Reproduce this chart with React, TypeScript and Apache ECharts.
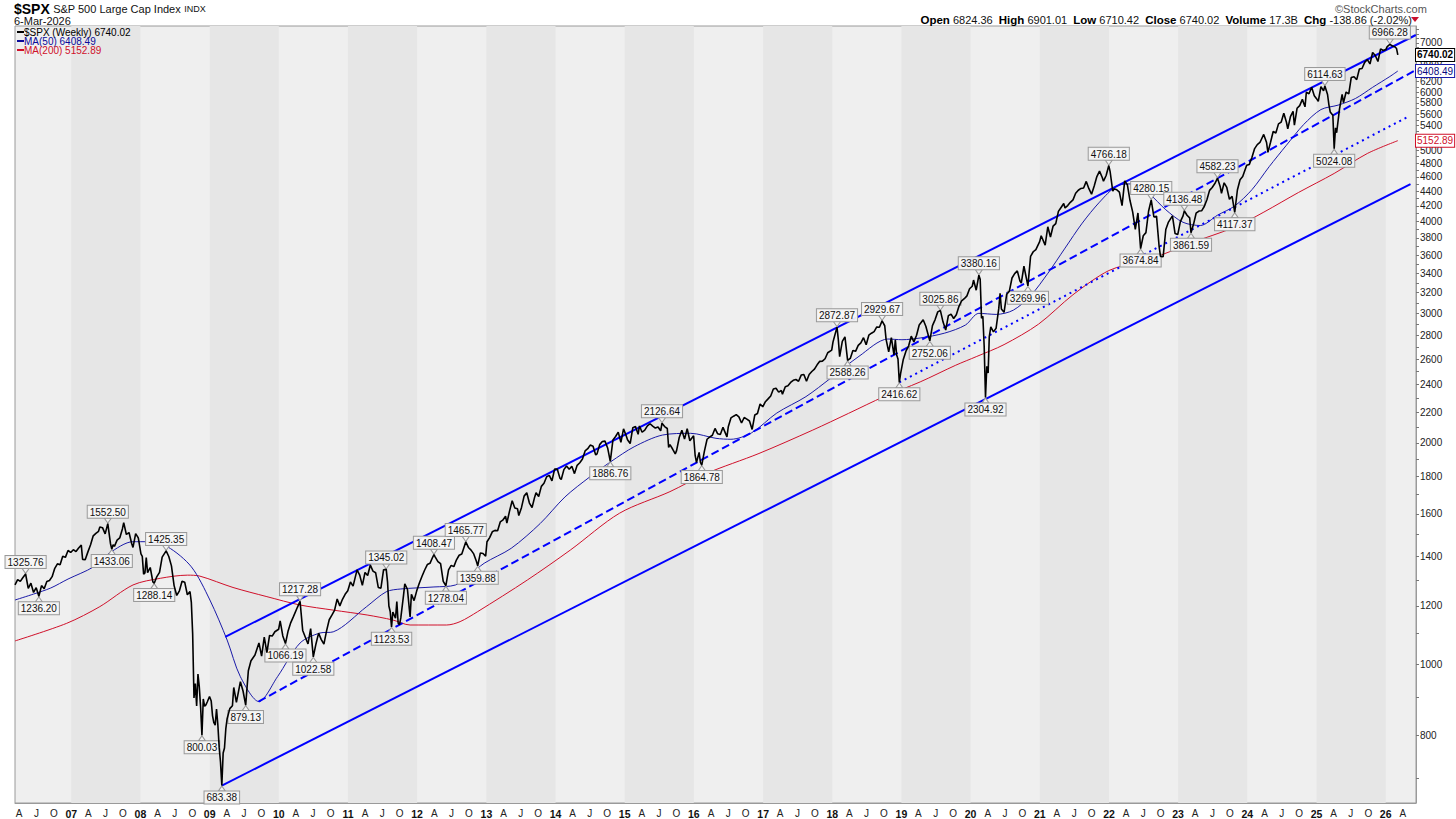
import React, { useEffect, useRef } from 'react';
import * as echarts from 'echarts';

// ---------- DATA ----------
const priceData: [string, number][] = [
  ['2006-03-10', 1281.4], ['2006-03-24', 1302.9], ['2006-04-07', 1295.5], ['2006-04-21', 1311.3],
  ['2006-05-05', 1325.76], ['2006-05-19', 1267.0], ['2006-06-02', 1288.2], ['2006-06-16', 1251.5],
  ['2006-06-30', 1270.2], ['2006-07-14', 1236.2], ['2006-07-28', 1278.6], ['2006-08-11', 1266.0],
  ['2006-08-25', 1295.1], ['2006-09-08', 1298.9], ['2006-09-22', 1314.8], ['2006-10-06', 1349.6],
  ['2006-10-20', 1368.6], ['2006-11-03', 1364.3], ['2006-11-17', 1401.2], ['2006-12-01', 1396.7],
  ['2006-12-15', 1427.1], ['2006-12-29', 1418.3],
  ['2007-01-12', 1430.7], ['2007-01-26', 1422.2], ['2007-02-09', 1438.1], ['2007-02-23', 1451.2],
  ['2007-03-02', 1387.2], ['2007-03-16', 1386.9], ['2007-03-30', 1420.9], ['2007-04-13', 1452.9],
  ['2007-04-27', 1494.1], ['2007-05-11', 1505.9], ['2007-05-25', 1515.7], ['2007-06-01', 1536.3],
  ['2007-06-15', 1532.9], ['2007-06-29', 1503.4], ['2007-07-13', 1552.5], ['2007-07-27', 1458.9],
  ['2007-08-03', 1433.06], ['2007-08-10', 1453.6], ['2007-08-17', 1445.9], ['2007-08-31', 1474.0],
  ['2007-09-14', 1484.3], ['2007-09-28', 1526.8], ['2007-10-05', 1557.6], ['2007-10-19', 1500.6],
  ['2007-11-02', 1509.7], ['2007-11-16', 1458.7], ['2007-11-23', 1440.7], ['2007-12-07', 1504.7],
  ['2007-12-21', 1484.5],
  ['2008-01-04', 1411.6], ['2008-01-11', 1401.0], ['2008-01-18', 1325.2], ['2008-01-25', 1330.6],
  ['2008-02-01', 1395.4], ['2008-02-08', 1331.3], ['2008-02-22', 1353.1], ['2008-03-07', 1293.4],
  ['2008-03-14', 1288.14], ['2008-03-28', 1315.2], ['2008-04-11', 1332.8], ['2008-04-25', 1397.8],
  ['2008-05-16', 1425.35], ['2008-05-30', 1400.4], ['2008-06-13', 1360.0], ['2008-06-27', 1278.4],
  ['2008-07-11', 1239.5], ['2008-07-25', 1257.8], ['2008-08-08', 1296.3], ['2008-08-22', 1292.2],
  ['2008-09-05', 1242.3], ['2008-09-19', 1255.1], ['2008-09-26', 1213.3], ['2008-10-03', 1099.2],
  ['2008-10-10', 899.2], ['2008-10-17', 940.6], ['2008-10-24', 876.8], ['2008-10-31', 968.8],
  ['2008-11-07', 931.0], ['2008-11-14', 873.3], ['2008-11-21', 800.03], ['2008-11-28', 896.2],
  ['2008-12-05', 876.1], ['2008-12-12', 879.7], ['2008-12-19', 887.9], ['2008-12-31', 903.3],
  ['2009-01-09', 890.4], ['2009-01-16', 850.1], ['2009-01-23', 832.0], ['2009-01-30', 825.9],
  ['2009-02-06', 868.6], ['2009-02-13', 826.8], ['2009-02-20', 770.1], ['2009-02-27', 735.1],
  ['2009-03-06', 683.38], ['2009-03-13', 756.6], ['2009-03-20', 768.5], ['2009-03-27', 815.9],
  ['2009-04-03', 842.5], ['2009-04-17', 869.6], ['2009-05-01', 877.5], ['2009-05-08', 929.2],
  ['2009-05-22', 887.0], ['2009-06-12', 946.2], ['2009-06-26', 918.9], ['2009-07-10', 879.13],
  ['2009-07-24', 979.3], ['2009-08-07', 1010.5], ['2009-08-28', 1028.9], ['2009-09-18', 1068.3],
  ['2009-10-02', 1025.2], ['2009-10-16', 1087.7], ['2009-10-30', 1036.2], ['2009-11-13', 1093.5],
  ['2009-11-27', 1091.5], ['2009-12-11', 1106.4], ['2009-12-31', 1115.1],
  ['2010-01-08', 1145.0], ['2010-01-22', 1091.8], ['2010-02-05', 1066.19], ['2010-02-19', 1109.2],
  ['2010-03-05', 1138.7], ['2010-03-19', 1159.9], ['2010-04-09', 1194.4], ['2010-04-23', 1217.28],
  ['2010-05-07', 1110.9], ['2010-05-21', 1087.7], ['2010-06-04', 1064.9], ['2010-06-18', 1117.5],
  ['2010-07-02', 1022.58], ['2010-07-16', 1064.9], ['2010-07-30', 1101.6], ['2010-08-13', 1079.3],
  ['2010-08-27', 1064.6], ['2010-09-10', 1109.6], ['2010-09-24', 1148.7], ['2010-10-08', 1165.2],
  ['2010-10-22', 1183.1], ['2010-11-05', 1225.9], ['2010-11-19', 1199.7], ['2010-12-03', 1224.7],
  ['2010-12-17', 1243.9], ['2010-12-31', 1257.6],
  ['2011-01-14', 1293.2], ['2011-01-28', 1276.3], ['2011-02-18', 1343.0], ['2011-03-04', 1321.2],
  ['2011-03-18', 1279.2], ['2011-04-01', 1332.4], ['2011-04-15', 1319.7], ['2011-04-29', 1363.6],
  ['2011-05-13', 1337.8], ['2011-05-27', 1331.1], ['2011-06-10', 1271.0], ['2011-06-24', 1268.5],
  ['2011-07-08', 1343.8], ['2011-07-22', 1345.02], ['2011-07-29', 1292.3], ['2011-08-05', 1199.4],
  ['2011-08-12', 1178.8], ['2011-08-19', 1123.53], ['2011-08-26', 1176.8], ['2011-09-09', 1154.2],
  ['2011-09-16', 1216.0], ['2011-09-23', 1136.4], ['2011-09-30', 1131.4], ['2011-10-07', 1155.5],
  ['2011-10-21', 1238.3], ['2011-10-28', 1285.1], ['2011-11-11', 1263.9], ['2011-11-25', 1158.7],
  ['2011-12-02', 1244.3], ['2011-12-16', 1219.7], ['2011-12-30', 1257.6],
  ['2012-01-13', 1289.1], ['2012-01-27', 1316.3], ['2012-02-10', 1342.6], ['2012-02-24', 1365.7],
  ['2012-03-09', 1370.9], ['2012-03-23', 1397.1], ['2012-03-30', 1408.47], ['2012-04-06', 1398.1],
  ['2012-04-20', 1378.5], ['2012-05-04', 1369.1], ['2012-05-18', 1295.2], ['2012-06-01', 1278.04],
  ['2012-06-15', 1342.8], ['2012-06-29', 1362.2], ['2012-07-13', 1356.8], ['2012-07-27', 1386.0],
  ['2012-08-10', 1405.9], ['2012-08-24', 1411.1], ['2012-09-14', 1465.77], ['2012-09-28', 1440.7],
  ['2012-10-12', 1428.6], ['2012-10-26', 1411.9], ['2012-11-09', 1379.9], ['2012-11-16', 1359.88],
  ['2012-11-30', 1416.2], ['2012-12-14', 1413.6], ['2012-12-28', 1402.4],
  ['2013-01-04', 1466.5], ['2013-01-18', 1486.0], ['2013-02-01', 1513.2], ['2013-02-15', 1519.8],
  ['2013-03-01', 1518.2], ['2013-03-15', 1560.7], ['2013-03-28', 1569.2], ['2013-04-12', 1588.9],
  ['2013-04-19', 1555.3], ['2013-05-03', 1614.4], ['2013-05-17', 1667.5], ['2013-05-31', 1630.7],
  ['2013-06-14', 1626.7], ['2013-06-21', 1592.4], ['2013-07-05', 1631.9], ['2013-07-19', 1692.1],
  ['2013-08-02', 1709.7], ['2013-08-16', 1655.8], ['2013-08-30', 1633.0], ['2013-09-13', 1688.0],
  ['2013-09-20', 1709.9], ['2013-10-04', 1690.5], ['2013-10-18', 1744.5], ['2013-11-01', 1761.6],
  ['2013-11-15', 1798.2], ['2013-11-29', 1805.8], ['2013-12-13', 1775.3], ['2013-12-27', 1841.4],
  ['2014-01-10', 1842.4], ['2014-01-24', 1790.3], ['2014-01-31', 1782.6], ['2014-02-14', 1838.6],
  ['2014-02-28', 1859.5], ['2014-03-14', 1841.1], ['2014-03-28', 1857.6], ['2014-04-11', 1815.7],
  ['2014-04-25', 1863.4], ['2014-05-09', 1878.5], ['2014-05-23', 1900.5], ['2014-06-06', 1949.4],
  ['2014-06-20', 1962.9], ['2014-07-03', 1985.4], ['2014-07-18', 1978.2], ['2014-08-01', 1925.2],
  ['2014-08-08', 1931.6], ['2014-08-22', 1988.4], ['2014-09-05', 2007.7], ['2014-09-19', 2010.4],
  ['2014-10-03', 1967.9], ['2014-10-17', 1886.76], ['2014-10-31', 2018.1], ['2014-11-14', 2039.8],
  ['2014-11-28', 2067.6], ['2014-12-12', 2002.3], ['2014-12-26', 2088.8],
  ['2015-01-09', 2044.8], ['2015-01-16', 2019.4], ['2015-01-30', 1995.0], ['2015-02-13', 2097.0],
  ['2015-02-27', 2104.5], ['2015-03-13', 2053.4], ['2015-03-20', 2108.1], ['2015-04-03', 2067.0],
  ['2015-04-17', 2081.2], ['2015-05-01', 2108.3], ['2015-05-15', 2122.7], ['2015-05-29', 2107.4],
  ['2015-06-12', 2094.1], ['2015-06-26', 2101.5], ['2015-07-10', 2076.6], ['2015-07-17', 2126.64],
  ['2015-07-31', 2103.8], ['2015-08-14', 2091.5], ['2015-08-21', 1970.9], ['2015-08-28', 1988.9],
  ['2015-09-11', 1961.1], ['2015-09-25', 1931.3], ['2015-10-02', 1951.4], ['2015-10-16', 2033.1],
  ['2015-10-30', 2079.4], ['2015-11-13', 2023.0], ['2015-11-27', 2090.1], ['2015-12-11', 2012.4],
  ['2015-12-31', 2043.9],
  ['2016-01-08', 1922.0], ['2016-01-15', 1880.3], ['2016-01-29', 1940.2], ['2016-02-05', 1880.1],
  ['2016-02-12', 1864.78], ['2016-02-26', 1948.1], ['2016-03-11', 2022.2], ['2016-03-24', 2035.9],
  ['2016-04-08', 2047.6], ['2016-04-22', 2091.6], ['2016-05-06', 2057.1], ['2016-05-20', 2052.3],
  ['2016-06-03', 2099.1], ['2016-06-24', 2037.4], ['2016-07-01', 2103.0], ['2016-07-15', 2161.7],
  ['2016-07-29', 2173.6], ['2016-08-12', 2184.1], ['2016-08-26', 2169.0], ['2016-09-09', 2127.8],
  ['2016-09-23', 2164.7], ['2016-10-07', 2153.7], ['2016-10-21', 2141.2], ['2016-11-04', 2085.2],
  ['2016-11-18', 2181.9], ['2016-12-02', 2192.0], ['2016-12-16', 2258.1], ['2016-12-30', 2238.8],
  ['2017-01-13', 2274.6], ['2017-01-27', 2294.7], ['2017-02-10', 2316.1], ['2017-02-24', 2367.3],
  ['2017-03-10', 2372.6], ['2017-03-24', 2344.0], ['2017-04-07', 2355.5], ['2017-04-13', 2329.0],
  ['2017-04-28', 2384.2], ['2017-05-12', 2390.9], ['2017-05-26', 2415.8], ['2017-06-09', 2431.8],
  ['2017-06-23', 2438.3], ['2017-07-07', 2425.2], ['2017-07-21', 2472.5], ['2017-08-04', 2476.8],
  ['2017-08-18', 2425.6], ['2017-09-01', 2476.6], ['2017-09-15', 2500.2], ['2017-09-29', 2519.4],
  ['2017-10-13', 2553.2], ['2017-10-27', 2581.1], ['2017-11-10', 2582.3], ['2017-11-24', 2602.4],
  ['2017-12-08', 2651.5], ['2017-12-29', 2673.6],
  ['2018-01-05', 2743.2], ['2018-01-12', 2786.2], ['2018-01-26', 2872.87], ['2018-02-02', 2762.1],
  ['2018-02-09', 2619.6], ['2018-02-23', 2747.3], ['2018-03-09', 2786.6], ['2018-03-23', 2588.26],
  ['2018-04-06', 2604.5], ['2018-04-20', 2670.1], ['2018-05-04', 2663.4], ['2018-05-18', 2713.0],
  ['2018-06-01', 2734.6], ['2018-06-15', 2779.7], ['2018-06-29', 2718.4], ['2018-07-13', 2801.3],
  ['2018-07-27', 2818.8], ['2018-08-10', 2833.3], ['2018-08-24', 2874.7], ['2018-09-07', 2871.7],
  ['2018-09-21', 2929.67], ['2018-10-05', 2885.6], ['2018-10-12', 2767.1], ['2018-10-26', 2658.7],
  ['2018-11-09', 2781.0], ['2018-11-23', 2632.6], ['2018-11-30', 2760.2], ['2018-12-07', 2633.1],
  ['2018-12-14', 2600.0], ['2018-12-21', 2416.62], ['2018-12-28', 2485.7],
  ['2019-01-11', 2596.3], ['2019-01-25', 2664.8], ['2019-02-08', 2707.9], ['2019-02-22', 2792.7],
  ['2019-03-08', 2743.1], ['2019-03-22', 2800.7], ['2019-04-05', 2892.7], ['2019-04-26', 2939.9],
  ['2019-05-10', 2881.4], ['2019-05-31', 2752.06], ['2019-06-14', 2887.0], ['2019-06-28', 2941.8],
  ['2019-07-12', 3013.8], ['2019-07-26', 3025.86], ['2019-08-09', 2918.7], ['2019-08-23', 2847.1],
  ['2019-09-06', 2978.7], ['2019-09-20', 2992.1], ['2019-10-04', 2952.0], ['2019-10-18', 2986.2],
  ['2019-11-01', 3066.9], ['2019-11-15', 3120.5], ['2019-11-29', 3141.0], ['2019-12-13', 3168.8],
  ['2019-12-27', 3240.0],
  ['2020-01-10', 3265.4], ['2020-01-17', 3329.6], ['2020-01-31', 3225.5], ['2020-02-14', 3380.16],
  ['2020-02-21', 3337.8], ['2020-02-28', 2954.2], ['2020-03-06', 2972.4], ['2020-03-13', 2711.0],
  ['2020-03-20', 2304.92], ['2020-03-27', 2541.5], ['2020-04-03', 2488.7], ['2020-04-09', 2789.8],
  ['2020-04-17', 2874.6], ['2020-05-01', 2830.7], ['2020-05-15', 2863.7], ['2020-05-29', 3044.3],
  ['2020-06-05', 3193.9], ['2020-06-12', 3041.3], ['2020-06-26', 3009.1], ['2020-07-10', 3185.0],
  ['2020-07-24', 3215.6], ['2020-08-07', 3351.3], ['2020-08-21', 3397.2], ['2020-09-04', 3427.0],
  ['2020-09-18', 3319.5], ['2020-09-25', 3298.5], ['2020-10-09', 3477.1], ['2020-10-30', 3269.96],
  ['2020-11-13', 3585.2], ['2020-11-27', 3638.4], ['2020-12-11', 3663.5], ['2020-12-31', 3756.1],
  ['2021-01-08', 3824.7], ['2021-01-29', 3714.2], ['2021-02-12', 3934.8], ['2021-02-26', 3811.2],
  ['2021-03-12', 3943.3], ['2021-03-26', 3974.5], ['2021-04-09', 4128.8], ['2021-04-23', 4180.2],
  ['2021-05-07', 4232.6], ['2021-05-14', 4173.9], ['2021-05-28', 4204.1], ['2021-06-11', 4247.4],
  ['2021-06-25', 4280.7], ['2021-07-09', 4369.6], ['2021-07-23', 4411.8], ['2021-08-06', 4436.5],
  ['2021-08-20', 4441.7], ['2021-09-03', 4535.4], ['2021-09-17', 4433.0], ['2021-10-01', 4357.0],
  ['2021-10-15', 4471.4], ['2021-10-29', 4605.4], ['2021-11-12', 4682.9], ['2021-11-26', 4594.6],
  ['2021-12-03', 4538.4], ['2021-12-17', 4620.6], ['2021-12-31', 4766.18],
  ['2022-01-07', 4677.0], ['2022-01-21', 4397.9], ['2022-01-28', 4431.9], ['2022-02-11', 4418.6],
  ['2022-02-25', 4384.7], ['2022-03-11', 4204.3], ['2022-03-25', 4543.1], ['2022-04-08', 4488.3],
  ['2022-04-22', 4271.8], ['2022-05-06', 4123.3], ['2022-05-20', 3901.4], ['2022-06-03', 4108.5],
  ['2022-06-17', 3674.84], ['2022-07-01', 3825.3], ['2022-07-15', 3863.2], ['2022-07-29', 4130.3],
  ['2022-08-12', 4280.15], ['2022-08-26', 4057.7], ['2022-09-09', 4067.4], ['2022-09-23', 3693.2],
  ['2022-09-30', 3585.6], ['2022-10-14', 3583.1], ['2022-10-28', 3901.1], ['2022-11-11', 3992.9],
  ['2022-12-02', 4071.7], ['2022-12-16', 3852.4], ['2022-12-30', 3839.5],
  ['2023-01-13', 3999.1], ['2023-01-27', 4070.6], ['2023-02-03', 4136.48], ['2023-02-17', 4079.1],
  ['2023-03-03', 4045.6], ['2023-03-10', 3861.59], ['2023-03-24', 3971.0], ['2023-04-06', 4105.0],
  ['2023-04-21', 4133.5], ['2023-05-05', 4136.3], ['2023-05-19', 4192.0], ['2023-06-02', 4282.4],
  ['2023-06-16', 4409.6], ['2023-06-30', 4450.4], ['2023-07-14', 4505.4], ['2023-07-28', 4582.23],
  ['2023-08-11', 4464.1], ['2023-08-18', 4369.7], ['2023-09-01', 4515.8], ['2023-09-15', 4450.3],
  ['2023-09-29', 4288.1], ['2023-10-13', 4327.8], ['2023-10-27', 4117.37], ['2023-11-10', 4415.2],
  ['2023-11-24', 4559.3], ['2023-12-08', 4604.4], ['2023-12-29', 4769.8],
  ['2024-01-12', 4783.8], ['2024-01-26', 4891.0], ['2024-02-09', 5026.6], ['2024-02-23', 5088.8],
  ['2024-03-08', 5123.7], ['2024-03-28', 5254.4], ['2024-04-12', 5123.4], ['2024-04-19', 4967.2],
  ['2024-05-03', 5127.8], ['2024-05-17', 5303.3], ['2024-05-31', 5277.5], ['2024-06-14', 5431.6],
  ['2024-06-28', 5460.5], ['2024-07-12', 5615.4], ['2024-07-26', 5459.1], ['2024-08-02', 5346.6],
  ['2024-08-16', 5554.3], ['2024-08-30', 5648.4], ['2024-09-06', 5408.4], ['2024-09-20', 5702.6],
  ['2024-10-04', 5751.1], ['2024-10-18', 5864.7], ['2024-11-01', 5728.8], ['2024-11-08', 5995.5],
  ['2024-11-22', 5969.3], ['2024-12-06', 6090.3], ['2024-12-20', 5930.9], ['2024-12-31', 5881.6],
  ['2025-01-10', 5827.0], ['2025-01-24', 6101.2], ['2025-02-07', 6026.0], ['2025-02-14', 6114.63],
  ['2025-02-28', 5954.5], ['2025-03-07', 5770.2], ['2025-03-14', 5638.9], ['2025-03-28', 5580.9],
  ['2025-04-04', 5024.08], ['2025-04-11', 5363.4], ['2025-04-17', 5282.7], ['2025-05-02', 5686.7],
  ['2025-05-16', 5958.4], ['2025-05-23', 5802.8], ['2025-06-06', 6000.4], ['2025-06-20', 5967.8],
  ['2025-07-03', 6279.4], ['2025-07-18', 6296.8], ['2025-08-01', 6238.0], ['2025-08-15', 6449.8],
  ['2025-08-29', 6460.3], ['2025-09-12', 6584.3], ['2025-09-26', 6643.7], ['2025-10-10', 6552.5],
  ['2025-10-24', 6791.7], ['2025-11-07', 6728.8], ['2025-11-21', 6603.0], ['2025-12-05', 6870.4],
  ['2025-12-19', 6834.5], ['2026-01-02', 6858.5], ['2026-01-09', 6920.0], ['2026-01-23', 6966.28],
  ['2026-02-06', 6932.3], ['2026-02-20', 6909.5], ['2026-02-27', 6878.88], ['2026-03-06', 6740.02],
];

const ma50Data: [string, number][] = [
  ['2006-03-10', 1222], ['2006-06-16', 1245], ['2006-09-15', 1269], ['2006-12-15', 1305],
  ['2007-04-27', 1355], ['2007-07-20', 1415], ['2007-11-23', 1467], ['2008-02-08', 1467],
  ['2008-05-23', 1444], ['2008-09-26', 1356], ['2009-01-02', 1222], ['2009-04-03', 1078],
  ['2009-06-12', 961], ['2009-09-18', 889], ['2009-12-25', 961], ['2010-04-23', 1068],
  ['2010-08-06', 1102], ['2010-10-15', 1106], ['2011-04-08', 1196], ['2011-07-22', 1254],
  ['2011-10-07', 1265], ['2012-03-30', 1273], ['2012-07-22', 1281], ['2012-12-20', 1371],
  ['2013-05-12', 1437], ['2013-10-12', 1553], ['2014-02-20', 1688], ['2014-07-02', 1798],
  ['2014-10-20', 1885], ['2015-02-20', 1975], ['2015-07-20', 2049], ['2015-12-15', 2060],
  ['2016-04-27', 2028], ['2016-07-15', 2022], ['2016-11-02', 2064], ['2017-03-14', 2195],
  ['2017-08-15', 2311], ['2017-12-25', 2450], ['2018-05-22', 2622], ['2018-10-22', 2768],
  ['2019-01-04', 2762], ['2019-04-10', 2777], ['2019-08-18', 2820], ['2019-12-05', 2892],
  ['2020-02-14', 3000], ['2020-05-15', 2990], ['2020-08-14', 3030], ['2020-11-13', 3170],
  ['2021-02-12', 3400], ['2021-05-14', 3680], ['2021-08-13', 3980], ['2021-11-12', 4250],
  ['2022-02-11', 4470], ['2022-04-29', 4500], ['2022-07-29', 4370], ['2022-10-28', 4150],
  ['2023-01-27', 3990], ['2023-04-28', 3950], ['2023-07-28', 4080], ['2023-10-27', 4200],
  ['2024-01-26', 4420], ['2024-04-26', 4750], ['2024-07-26', 5080], ['2024-10-25', 5420],
  ['2025-01-24', 5680], ['2025-04-25', 5760], ['2025-07-25', 5880], ['2025-10-24', 6090],
  ['2026-01-23', 6300], ['2026-03-06', 6408.49],
];

const ma200Data: [string, number][] = [
  ['2006-03-10', 1075], ['2006-12-08', 1136], ['2007-06-01', 1197], ['2007-11-23', 1281],
  ['2008-04-15', 1308], ['2008-09-05', 1321], ['2008-11-10', 1317], ['2009-05-04', 1271],
  ['2009-10-30', 1235], ['2010-04-23', 1203], ['2010-10-15', 1184], ['2011-04-12', 1166],
  ['2011-08-25', 1148], ['2011-11-25', 1130], ['2012-06-05', 1130], ['2012-08-15', 1142],
  ['2012-11-15', 1178], ['2013-08-05', 1301], ['2014-03-20', 1429], ['2014-12-05', 1604],
  ['2015-08-28', 1716], ['2016-03-08', 1817], ['2016-12-10', 1934], ['2017-09-20', 2081],
  ['2018-03-28', 2193], ['2018-10-01', 2311], ['2019-04-10', 2420], ['2019-10-15', 2550],
  ['2020-02-03', 2621], ['2020-06-26', 2720], ['2020-12-25', 2900], ['2021-06-25', 3180],
  ['2021-12-31', 3430], ['2022-06-17', 3530], ['2022-10-14', 3610], ['2023-03-10', 3740],
  ['2023-10-27', 3930], ['2024-03-29', 4120], ['2024-09-27', 4380], ['2025-04-04', 4650],
  ['2025-09-26', 4950], ['2026-03-06', 5152.89],
];

// channel / trend lines: [start, end]
const upperChannel: [string, number][] = [['2009-03-24', 1089], ['2026-06-09', 7175]];
const midDashed: [string, number][] = [['2009-09-16', 889], ['2026-06-09', 6428]];
const dottedTrend: [string, number][] = [['2018-12-21', 2416.62], ['2026-04-27', 5551]];
const lowerChannel: [string, number][] = [['2009-03-06', 683.38], ['2026-05-12', 4497]];

// annotated peaks and troughs
const peakLabels: [string, number][] = [
  ['2006-05-05', 1325.76], ['2007-07-13', 1552.5], ['2008-05-16', 1425.35], ['2010-04-23', 1217.28],
  ['2011-07-22', 1345.02], ['2012-03-30', 1408.47], ['2012-09-14', 1465.77], ['2015-07-17', 2126.64],
  ['2018-01-26', 2872.87], ['2018-09-21', 2929.67], ['2019-07-26', 3025.86], ['2020-02-14', 3380.16],
  ['2021-12-31', 4766.18], ['2022-08-12', 4280.15], ['2023-02-03', 4136.48], ['2023-07-28', 4582.23],
  ['2025-02-14', 6114.63], ['2026-01-23', 6966.28],
];
const troughLabels: [string, number][] = [
  ['2006-07-14', 1236.2], ['2007-08-03', 1433.06], ['2008-03-14', 1288.14], ['2008-11-21', 800.03],
  ['2009-03-06', 683.38], ['2009-07-10', 879.13], ['2010-02-05', 1066.19], ['2010-07-02', 1022.58],
  ['2011-08-19', 1123.53], ['2012-06-01', 1278.04], ['2012-11-16', 1359.88], ['2014-10-17', 1886.76],
  ['2016-02-12', 1864.78], ['2018-03-23', 2588.26], ['2018-12-21', 2416.62], ['2019-05-31', 2752.06],
  ['2020-03-20', 2304.92], ['2020-10-30', 3269.96], ['2022-06-17', 3674.84], ['2023-03-10', 3861.59],
  ['2023-10-27', 4117.37], ['2025-04-04', 5024.08],
];

// right-axis labels (those hidden under the last-value boxes are left out)
const yLabelValues: number[] = [
  800, 1000, 1200, 1400, 1600, 1800, 2000, 2200, 2400, 2600, 2800, 3000, 3200, 3400, 3600,
  3800, 4000, 4200, 4400, 4600, 4800, 5000, 5400, 5600, 5800, 6000, 6200, 6600, 7000,
];
const yTickValues: number[] = [
  700, 800, 900, 1000, 1100, 1200, 1300, 1400, 1500, 1600, 1700, 1800, 1900, 2000, 2100, 2200,
  2300, 2400, 2500, 2600, 2700, 2800, 2900, 3000, 3100, 3200, 3300, 3400, 3500, 3600, 3700, 3800,
  3900, 4000, 4100, 4200, 4300, 4400, 4500, 4600, 4700, 4800, 4900, 5000, 5100, 5200, 5300, 5400,
  5500, 5600, 5700, 5800, 5900, 6000, 6100, 6200, 6300, 6400, 6500, 6600, 6700, 6800, 6900, 7000,
  7100, 7200, 7300,
];
const firstYear = 2006;
const lastYear = 2026;
const quarterMonthLabels: Record<number, string> = { 3: 'A', 6: 'J', 9: 'O' };

const lastClose = 6740.02;
const lastMa50 = 6408.49;
const lastMa200 = 5152.89;

const FONT = '"Liberation Sans", Arial, Helvetica, sans-serif';

export default function App() {
  const ref = useRef<HTMLDivElement>(null);

  useEffect(() => {
    document.body.style.margin = '0';
    if (!ref.current) return;
    const chart = echarts.init(ref.current, undefined, { renderer: 'svg' });
    const T = (s: string) => {
      const [y, m, d] = s.split('-').map(Number);
      return new Date(y, m - 1, d).getTime();
    };
    const toSeries = (arr: [string, number][]) => arr.map(([d, v]) => [T(d), v]);

    const quarterTicks: number[] = [];
    for (let y = firstYear; y <= lastYear; y++) {
      for (const m of [0, 3, 6, 9]) {
        quarterTicks.push(new Date(y, m, 1).getTime());
      }
    }

    const bands: any[] = [];
    for (let y = 2007; y <= 2025; y += 2) {
      bands.push([{ xAxis: new Date(y, 0, 1).getTime() }, { xAxis: new Date(y + 1, 0, 1).getTime() }]);
    }

    const labelBox = {
      fontSize: 10,
      fontFamily: FONT,
      color: '#111',
      backgroundColor: 'rgba(246,246,246,0.92)',
      borderColor: '#9a9a9a',
      borderWidth: 1,
      padding: [1, 2, 0, 2],
      lineHeight: 11,
      distance: 0,
    };

    const markData = [
      ...peakLabels.map(([d, v]) => ({
        coord: [T(d), v], value: v,
        symbolRotate: 180,
        symbolOffset: [0, -3],
        label: { position: 'top', formatter: v.toFixed(2) },
      })),
      ...troughLabels.map(([d, v]) => ({
        coord: [T(d), v], value: v,
        symbolRotate: 0,
        symbolOffset: [0, 3],
        label: { position: 'bottom', formatter: v.toFixed(2) },
      })),
    ];

    const lastMark = (val: number, border: string, color: string, bold: boolean) => ({
      silent: true,
      symbol: ['none', 'none'],
      lineStyle: { width: 0, color: 'rgba(0,0,0,0)', opacity: 1 },
      animation: false,
      z: 20,
      data: [{ yAxis: val }],
      label: {
        show: true,
        opacity: 1,
        position: 'end',
        distance: 0,
        formatter: val.toFixed(2),
        fontSize: 10,
        lineHeight: 11,
        fontWeight: bold ? 'bold' : 'normal',
        fontFamily: FONT,
        color,
        backgroundColor: '#fff',
        borderColor: border,
        borderWidth: 1,
        padding: [1, 1, 0, 1],
      },
    });

    const gz = { z: 100 };
    const option: any = {
      animation: false,
      grid: {
        left: 15, top: 26, right: 40, bottom: 16,
        show: true, backgroundColor: '#efefef', borderColor: '#9a9a9a', borderWidth: 1,
      },
      xAxis: {
        type: 'value',
        min: T('2006-03-10'),
        max: T('2026-06-10'),
        splitLine: { show: false },
        axisLine: { show: true, lineStyle: { color: '#9a9a9a' } },
        axisTick: { show: false },
        axisLabel: {
          customValues: quarterTicks,
          margin: 5,
          fontSize: 10,
          fontFamily: FONT,
          color: '#222',
          formatter: (val: number) => {
            const d = new Date(val);
            const m = d.getMonth();
            if (m === 0) return '{b|' + String(d.getFullYear()).slice(2) + '}';
            return quarterMonthLabels[m] || '';
          },
          rich: { b: { fontWeight: 'bold', fontSize: 10.5, fontFamily: FONT, color: '#111' } },
        },
      },
      yAxis: {
        type: 'log',
        position: 'right',
        min: 647,
        max: 7380,
        splitLine: { show: false },
        axisLine: { show: true, lineStyle: { color: '#9a9a9a' } },
        axisTick: { show: true, customValues: yTickValues, length: 3, lineStyle: { color: '#777' } },
        axisLabel: {
          customValues: yLabelValues,
          margin: 4,
          fontSize: 10,
          fontFamily: FONT,
          color: '#222',
          formatter: (v: number) => String(Math.round(v)),
        },
      },
      graphic: [
        {
          type: 'text', left: 14, top: 2, ...gz,
          style: {
            text: '{a|$SPX} {b|S&P 500 Large Cap Index} {c|INDX}',
            rich: {
              a: { fontWeight: 'bold', fontSize: 14, fontFamily: FONT, fill: '#000' },
              b: { fontSize: 11, fontFamily: FONT, fill: '#111' },
              c: { fontSize: 9, fontFamily: FONT, fill: '#111' },
            },
          },
        },
        { type: 'text', left: 14, top: 15, ...gz, style: { text: '6-Mar-2026', font: '11px ' + FONT, fill: '#111' } },
        { type: 'text', left: 1335, top: 3, ...gz, style: { text: '\u00A9StockCharts.com', font: '11px ' + FONT, fill: '#555' } },
        {
          type: 'text', right: 44, top: 14, ...gz,
          style: {
            text: '{b|Open} 6824.36  {b|High} 6901.01  {b|Low} 6710.42  {b|Close} 6740.02  {b|Volume} 17.3B  {b|Chg} -138.86 (-2.02%)',
            font: '11px ' + FONT, fill: '#111',
            rich: { b: { fontWeight: 'bold', fontSize: 11.5, fontFamily: FONT, fill: '#000' } },
          },
        },
        { type: 'polygon', ...gz, shape: { points: [[1411, 17], [1419, 17], [1415, 22]] }, style: { fill: '#c8102e' } },
        { type: 'rect', ...gz, shape: { x: 17, y: 31, width: 7, height: 2 }, style: { fill: '#000' } },
        { type: 'text', left: 24, top: 27, ...gz, style: { text: '$SPX (Weekly) 6740.02', font: '10px ' + FONT, fill: '#000' } },
        { type: 'rect', ...gz, shape: { x: 17, y: 40, width: 7, height: 2 }, style: { fill: '#0a0a9a' } },
        { type: 'text', left: 24, top: 36, ...gz, style: { text: 'MA(50) 6408.49', font: '10px ' + FONT, fill: '#0a0a9a' } },
        { type: 'rect', ...gz, shape: { x: 17, y: 49, width: 7, height: 2 }, style: { fill: '#d0102a' } },
        { type: 'text', left: 24, top: 45, ...gz, style: { text: 'MA(200) 5152.89', font: '10px ' + FONT, fill: '#d0102a' } },
      ],
      series: [
        {
          name: 'MA(200)', type: 'line', data: toSeries(ma200Data), showSymbol: false, smooth: 0.3,
          silent: true, z: 2,
          lineStyle: { color: '#d0102a', width: 1 },
          markArea: { silent: true, itemStyle: { color: '#e6e6e6' }, data: bands },
          markLine: lastMark(lastMa200, '#d0102a', '#d0102a', false),
        },
        {
          name: 'MA(50)', type: 'line', data: toSeries(ma50Data), showSymbol: false, smooth: 0.3,
          silent: true, z: 3,
          lineStyle: { color: '#1a1aa8', width: 1 },
          markLine: lastMark(lastMa50, '#1a1aa8', '#0a0a80', false),
        },
        ...[
          { d: upperChannel, type: 'solid' },
          { d: midDashed, type: [8, 4] },
          { d: dottedTrend, type: [2, 4] },
          { d: lowerChannel, type: 'solid' },
        ].map((t) => ({
          type: 'line', data: toSeries(t.d), showSymbol: false, silent: true, z: 4,
          lineStyle: { color: '#0000ff', width: 2, type: t.type },
        })),
        {
          name: '$SPX', type: 'line', data: toSeries(priceData), showSymbol: false, silent: true, z: 6,
          lineStyle: { color: '#000', width: 1.6 },
          markPoint: {
            silent: true,
            symbol: 'triangle',
            symbolSize: [7, 5],
            itemStyle: { color: '#f4f4f4', borderColor: '#9a9a9a', borderWidth: 1 },
            label: { show: true, ...labelBox },
            data: markData,
          },
          markLine: lastMark(lastClose, '#000', '#000', true),
        },
      ],
    };
    chart.setOption(option);
    return () => chart.dispose();
  }, []);

  return <div ref={ref} style={{ width: 1456, height: 819 }} />;
}
